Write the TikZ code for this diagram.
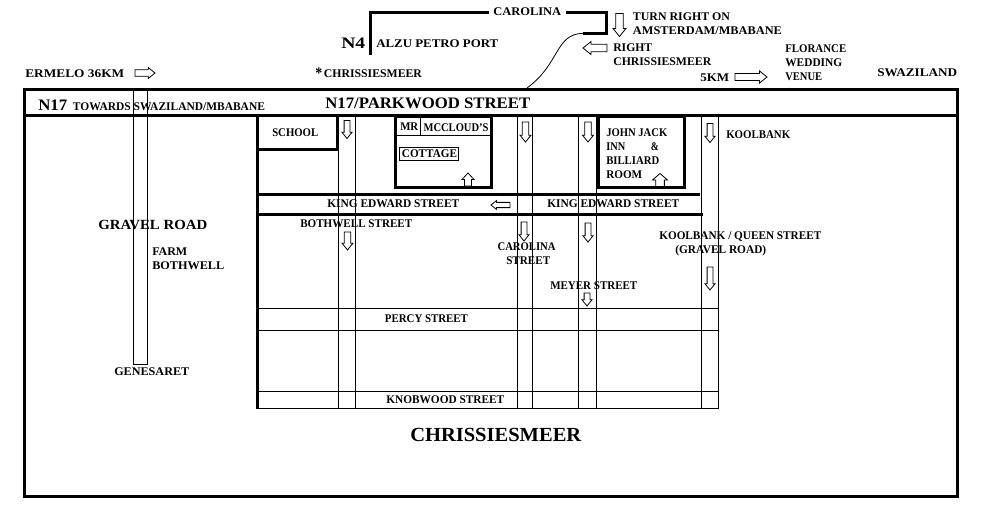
\documentclass[tikz,border=0pt]{standalone}
\usepackage{fontspec}
\usepackage{graphicx}
\setmainfont{Liberation Serif}
\newdimen\pxu \pxu=0.75pt
\tikzset{
  thin line/.style={line width=0.75pt,line cap=rect},
  thick line/.style={line width=2.25pt,line cap=rect},
  lbl/.style={anchor=base west,inner sep=0pt,yshift=-3pt,font=\fontsize{8.8}{10}\selectfont\bfseries,text=black},
  mid/.style={lbl,yshift=-0.6pt,font=\fontsize{10.5}{12}\selectfont\bfseries},
  big/.style={lbl,yshift=-1pt,font=\fontsize{12}{14}\selectfont\bfseries},
  huge label/.style={lbl,yshift=-2pt,font=\fontsize{15}{17}\selectfont\bfseries},
  blockarrow/.style={draw=black,fill=white,line width=0.6pt,line join=miter},
}
% name, x, y, width in px, style, text
\newcommand{\lb}[6]{\node[#5] (#1) at (#2,#3) {\resizebox{#4\pxu}{\height}{#6}};}
% centre x, y, rotation, length, head width
\newcommand{\blk}[5]{%
  \pgfmathsetmacro{\hl}{#4/2}%
  \pgfmathsetmacro{\hw}{#5/2}%
  \pgfmathsetmacro{\sw}{#5*0.29}%
  \pgfmathsetmacro{\hb}{#4/2-min(#5*0.62,#4*0.5)}%
  \draw[blockarrow,shift={(#1,#2)},rotate=#3]
    (-\hl,-\sw) -- (\hb,-\sw) -- (\hb,-\hw) -- (\hl,0) -- (\hb,\hw) -- (\hb,\sw) -- (-\hl,\sw) -- cycle;}
\begin{document}
\begin{tikzpicture}[x=0.75pt,y=-0.75pt]
\useasboundingbox (0,0) rectangle (986,529);
% gravel road
\draw[thin line] (133.5,90) -- (133.5,364.5) -- (147.5,364.5) -- (147.5,90);
% frame
\draw[thick line] (24,89.5) rectangle (957.3,496);
\draw[thick line] (24,115.7) -- (957.3,115.7);
% grid
\foreach \a/\b in {338.5/355.5,517.5/532.5,578.5/596.5,701.5/718.5}{
  \draw[thin line] (\a,116) -- (\a,408.5);
  \draw[thin line] (\b,116) -- (\b,408.5);
}
\foreach \y in {308.5,330.5,391.5,408.5}{\draw[thin line] (257.7,\y) -- (718.5,\y);}
\draw[thick line] (257.7,116) -- (257.7,407.5);
\draw[thick line] (257.7,149) -- (337.3,149) -- (337.3,116);
\draw[thick line] (257.7,194.3) -- (698.5,194.3);
\draw[thick line] (257.7,214.7) -- (701,214.7);
% McCloud
\draw[thick line,fill=white] (395,116.5) rectangle (491.3,187.3);
\draw[thin line] (395,135.5) -- (491.3,135.5);
\draw[thin line] (420.7,116.5) -- (420.7,135.5);
\draw[thin line] (399.5,147.5) rectangle (458.5,160.5);
% John Jack
\draw[thick line,fill=white] (598,116.5) rectangle (684,187.3);
% top road
\draw[thick line] (370.7,53) -- (370.7,12) -- (487,12);
\draw[thick line] (567,12) -- (606.3,12) -- (606.3,33.3) -- (584,33.3);
\draw[line width=0.6pt] (583,33.3) .. controls (555,34) and (560,64) .. (527,88);
% arrows
\blk{145}{73}{0}{20}{11}
\blk{619.5}{25}{-90}{23}{13}
\blk{595}{48}{180}{24}{13}
\blk{751}{77}{0}{32}{12}
\blk{347}{129.5}{-90}{18}{10}
\blk{525.5}{132}{-90}{20}{11}
\blk{588}{132}{-90}{20}{11}
\blk{710}{133}{-90}{19}{10}
\blk{468}{179.5}{90}{13}{12}
\blk{660}{180}{90}{13}{15}
\blk{500.5}{205}{180}{19}{9}
\blk{347.5}{241}{-90}{18}{11}
\blk{524}{231.5}{-90}{19}{10}
\blk{588}{232.5}{-90}{19}{10}
\blk{710}{278.5}{-90}{23}{10}
\blk{587}{299.5}{-90}{13}{10}
% labels
\lb{t1}{25}{73}{99}{lbl}{ERMELO 36KM}
\lb{t2}{38}{105}{29}{big}{N17}
\lb{t3}{72.7}{106.3}{192}{lbl}{TOWARDS SWAZILAND/MBABANE}
\lb{t4}{325}{103}{205}{big}{N17/PARKWOOD STREET}
\lb{t5}{341}{43}{24}{big}{N4}
\lb{t6}{376}{43.7}{122}{lbl}{ALZU PETRO PORT}
\lb{t7}{315}{73}{7}{big}{*}
\lb{t8}{323.7}{73}{98}{lbl}{CHRISSIESMEER}
\lb{t9}{493}{11}{68}{lbl}{CAROLINA}
\lb{t10}{632.7}{16}{97}{lbl}{TURN RIGHT ON}
\lb{t11}{632.7}{30}{149}{lbl}{AMSTERDAM/MBABANE}
\lb{t12}{613}{47}{39}{lbl}{RIGHT}
\lb{t13}{613}{61}{98}{lbl}{CHRISSIESMEER}
\lb{t14}{785}{48.3}{61}{lbl}{FLORANCE}
\lb{t15}{785}{62.3}{57}{lbl}{WEDDING}
\lb{t16}{785}{76.3}{37}{lbl}{VENUE}
\lb{t17}{700}{77}{29}{lbl}{5KM}
\lb{t18}{877}{72}{80}{lbl}{SWAZILAND}
\lb{t19}{272}{132.3}{46}{lbl}{SCHOOL}
\lb{t20}{400}{126.7}{18}{lbl}{MR}
\lb{t21}{423.3}{127.7}{65}{lbl}{MCCLOUD'S}
\lb{t22}{401.7}{153.3}{55}{lbl}{COTTAGE}
\lb{t23}{606}{132.7}{61}{lbl}{JOHN JACK}
\lb{t24}{606}{146.7}{19}{lbl}{INN}
\lb{t25}{650.7}{146.7}{8}{lbl}{\&}
\lb{t26}{606}{160.7}{53}{lbl}{BILLIARD}
\lb{t27}{606}{174.7}{36}{lbl}{ROOM}
\lb{t28}{726}{134.3}{64}{lbl}{KOOLBANK}
\lb{t29}{327}{203.3}{132}{lbl}{KING EDWARD STREET}
\lb{t30}{547}{203.3}{132}{lbl}{KING EDWARD STREET}
\lb{t31}{300}{223.3}{112}{lbl}{BOTHWELL STREET}
\lb{t32}{98}{225}{109}{mid}{GRAVEL ROAD}
\lb{t33}{152}{251}{35}{lbl}{FARM}
\lb{t34}{152}{265}{72}{lbl}{BOTHWELL}
\lb{t35}{497.3}{246.3}{58}{lbl}{CAROLINA}
\lb{t36}{506}{260.3}{44}{lbl}{STREET}
\lb{t37}{659}{235.3}{162}{lbl}{KOOLBANK / QUEEN STREET}
\lb{t38}{675}{249.3}{91}{lbl}{(GRAVEL ROAD)}
\lb{t39}{550}{285.3}{87}{lbl}{MEYER STREET}
\lb{t40}{384.7}{318.3}{83}{lbl}{PERCY STREET}
\lb{t41}{386}{399.3}{118}{lbl}{KNOBWOOD STREET}
\lb{t42}{114}{371}{75}{lbl}{GENESARET}
\lb{t43}{410}{435}{171}{huge label}{CHRISSIESMEER}
\end{tikzpicture}
\end{document}
